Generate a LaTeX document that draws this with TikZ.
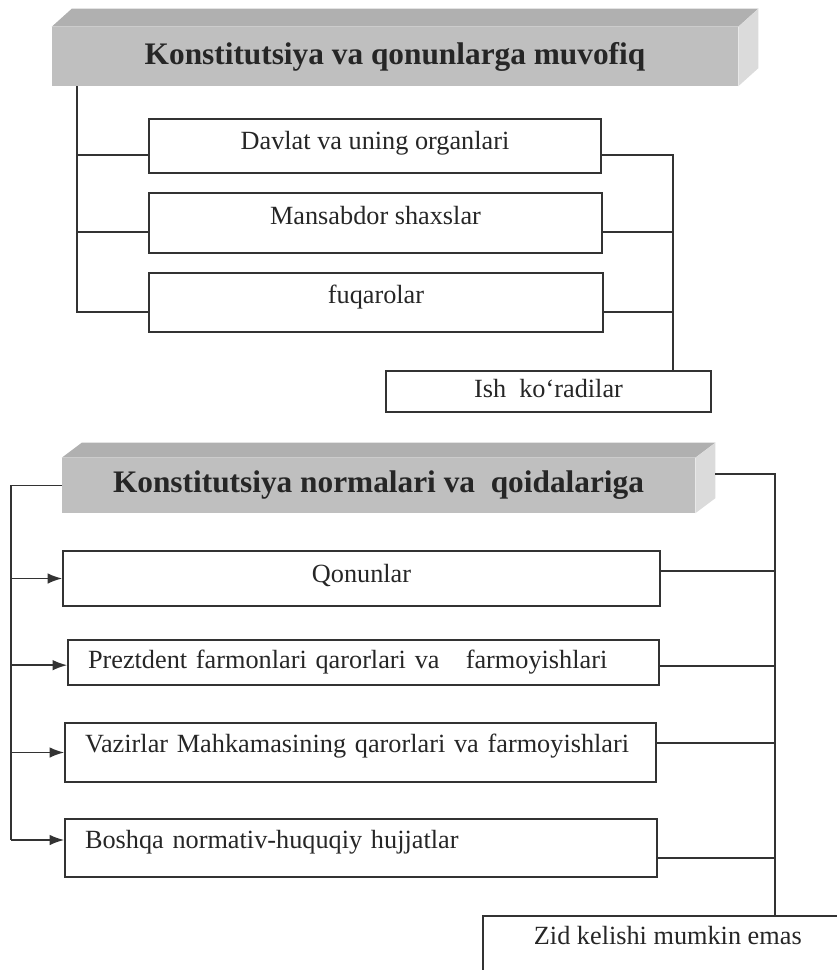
\documentclass[tikz,border=0pt]{standalone}
\usepackage{fontspec}
\setmainfont{Liberation Serif}
\usetikzlibrary{arrows.meta}
\colorlet{linecol}{black!80}
\colorlet{frontcol}{gray!50}
\colorlet{topcol}{gray!62}
\colorlet{sidecol}{gray!28}
\tikzset{
  entry/.style={draw=linecol,line width=1.2pt,inner sep=0pt,
                font=\fontsize{19.7}{23}\selectfont,text=black!85,
                text height=14pt,text depth=#1},
  entry/.default=5pt,
  lentry/.style={entry=#1,inner xsep=15pt,align=left},
  lentry/.default=5pt,
  banner/.style={fill=frontcol,inner sep=0pt,text=black!85,
                 font=\bfseries\fontsize{23.5}{28}\selectfont},
  conn/.style={draw=linecol,line width=1.3pt},
  feed/.style={conn,-{Latex[length=11pt,width=8pt]}}
}

\begin{document}
\begin{tikzpicture}[x=0.75pt,y=-0.75pt]
  \useasboundingbox (0,0) rectangle (837,970);
  \clip (0,0) rectangle (837,970);
  \def\dx{20}
  \def\dy{18}

  % FIRST BANNER
  \node[banner,minimum width=514.5pt,minimum height=44.25pt] (head1) at (395,56.5)
    {Konstitutsiya va qonunlarga muvofiq};
  \fill[topcol] (head1.north west) -- ++(\dx,-\dy)
    -- ([shift={(\dx,-\dy)}]head1.north east) -- (head1.north east) -- cycle;
  \fill[sidecol] (head1.north east) -- ([shift={(\dx,-\dy)}]head1.north east)
    -- ([shift={(\dx,-\dy)}]head1.south east) -- (head1.south east) -- cycle;

  % SUBJECTS
  \node[entry=8pt,minimum width=339pt,minimum height=40.5pt] (davlat) at (375,146)
    {Davlat va uning organlari};
  \node[entry=12pt,minimum width=339.75pt,minimum height=45pt] (mansab) at (375.5,223)
    {Mansabdor shaxslar};
  \node[entry=12pt,minimum width=340.5pt,minimum height=44.25pt] (fuqaro) at (376,302.5)
    {fuqarolar};
  \node[entry,minimum width=243.75pt,minimum height=30.75pt] (ish) at (548.5,391.5)
    {Ish\ \ ko‘radilar};

  \coordinate (j0) at ([xshift=18.75pt]head1.south west);
  \coordinate (j1) at ([xshift=-29.25pt]ish.north east);
  \coordinate (l1) at ([yshift=-7pt]davlat.west);
  \coordinate (l2) at ([yshift=-7pt]mansab.west);
  \coordinate (l3) at ([yshift=-7pt]fuqaro.west);
  \coordinate (r1) at ([yshift=-7pt]davlat.east);
  \coordinate (r2) at ([yshift=-7pt]mansab.east);
  \coordinate (r3) at ([yshift=-7pt]fuqaro.east);

  \draw[conn] (j0) |- (l3);
  \draw[conn] (r1) -| (j1);
  \foreach \t in {l1,l2}
    \draw[conn] (j0 |- \t) -- (\t);
  \foreach \t in {r2,r3}
    \draw[conn] (\t) -- (\t -| j1);

  % SECOND BANNER
  \def\dy{15}
  \node[banner,minimum width=474.75pt,minimum height=41.25pt] (head2) at (378.5,485.5)
    {Konstitutsiya normalari va\ \ qoidalariga};
  \fill[topcol] (head2.north west) -- ++(\dx,-\dy)
    -- ([shift={(\dx,-\dy)}]head2.north east) -- (head2.north east) -- cycle;
  \fill[sidecol] (head2.north east) -- ([shift={(\dx,-\dy)}]head2.north east)
    -- ([shift={(\dx,-\dy)}]head2.south east) -- (head2.south east) -- cycle;

  % ACTS
  \node[entry=8pt,minimum width=447.75pt,minimum height=41.25pt] (qonun) at (361.5,578.5)
    {Qonunlar};
  \node[lentry,text width=413.25pt,minimum height=33.75pt] (prez) at (363.5,662.5)
    {Preztdent farmonlari qarorlari va\ \ \ farmoyishlari};
  \node[lentry=14pt,text width=413.25pt,minimum height=44.25pt] (vazir) at (360.5,752.5)
    {Vazirlar Mahkamasining qarorlari va farmoyishlari};
  \node[lentry=13pt,text width=414pt,minimum height=43.5pt] (boshqa) at (361,848)
    {Boshqa normativ-huquqiy hujjatlar};
  \node[entry=24pt,anchor=north west,minimum width=277.5pt,minimum height=52.5pt] (zid)
    at (482,915) {Zid kelishi mumkin emas};

  \coordinate (lspine) at (11,485.5);
  \coordinate (h2r) at ([shift={(20,-11.5)}]head2.east);
  \coordinate (j2) at ([xshift=220pt]zid.north west);
  \coordinate (aq) at (qonun.west);
  \coordinate (ap) at ([yshift=-2pt]prez.west);
  \coordinate (av) at (vazir.west);
  \coordinate (ab) at ([yshift=6pt]boshqa.west);
  \coordinate (rq) at ([yshift=5.6pt]qonun.east);
  \coordinate (rp) at ([yshift=-2.6pt]prez.east);
  \coordinate (rv) at ([yshift=7pt]vazir.east);
  \coordinate (rb) at ([yshift=-7.5pt]boshqa.east);

  \draw[conn] (head2.west) -| (lspine |- ab);
  \foreach \t in {aq,ap,av,ab}
    \draw[feed] (lspine |- \t) -- (\t);
  \draw[conn] (h2r) -| (j2);
  \foreach \t in {rq,rp,rv,rb}
    \draw[conn] (\t) -- (\t -| j2);
\end{tikzpicture}
\end{document}
